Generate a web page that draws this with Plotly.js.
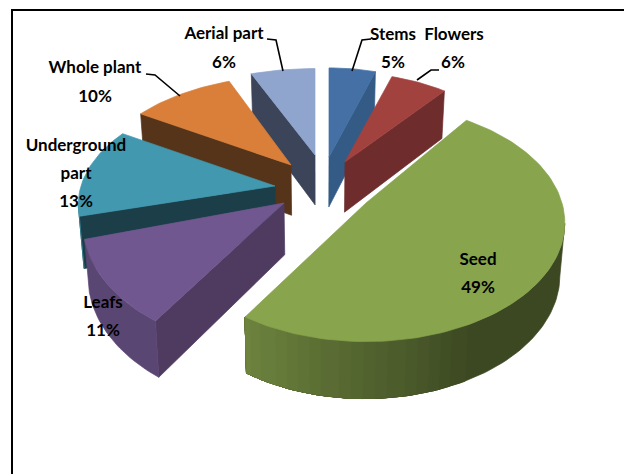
<!DOCTYPE html>
<html>
<head>
<meta charset="utf-8">
<script src="https://cdn.plot.ly/plotly-3.0.1.min.js"></script>
<style>html,body{margin:0;padding:0;background:#fff}#chart{width:624px;height:474px}</style>
</head>
<body>
<div id="chart"></div>
<script>
// Share of each plant part, clockwise from twelve o'clock
const parts = ["Stems", "Flowers", "Seed", "Leafs", "Underground part", "Whole plant", "Aerial part"];
const shares = [5, 6, 49, 11, 13, 10, 6];
const topColors = ["#4470a5", "#a2423f", "#88a44d", "#71578f", "#4198af", "#d97f3a", "#8fa5cd"];
const wallColors = ["#335b85", "#6e2c2c", "#5f7535", "#4f3a60", "#1b3e49", "#56341a", "#3b4459"];

// Exploded tip of each wedge, its stretch in the tilted plane and a small turn in degrees
const tipX = [329, 345, 366, 284, 275, 291, 315];
const tipY = [157, 162, 203, 203, 186, 165, 155];
const stretchX = [0.87, 0.88, 0.98, 0.99, 0.97, 0.97, 1];
const stretchY = [1, 1, 1.11, 1.18, 1.05, 1, 0.97];
const turn = [0, 0, -4, -2, -1, 0, 0];
const radiusX = 200, radiusY = 104, tilt = 0.167;

// Paint order, back to front
const paintOrder = [6, 0, 1, 5, 4, 3, 2];

const wallDepth = y => 44 + 0.038 * y;

function planePoint(i, angle) {
  const a = angle + turn[i] * Math.PI / 180;
  const X = Math.sin(a), Y = Math.cos(a), w = 1 + tilt * Y;
  return [tipX[i] + stretchX[i] * radiusX * X / w, tipY[i] - stretchY[i] * radiusY * Y / w];
}
const rgb = hex => [1, 3, 5].map(k => parseInt(hex.substr(k, 2), 16));
function scaled(hex, f) {
  const c = rgb(hex).map(v => Math.round(v * f));
  return `rgb(${c[0]},${c[1]},${c[2]})`;
}
// Rim brightness falls off from the lower left towards the lower right, in fine bands
function rimShade(deg) {
  const u = Math.max(0, Math.min(1, (deg - 155) / 61));
  return Math.round((0.43 + 0.37 * u) * 50) / 50;
}
const poly = (pts, color) => ({
  type: "scatter", mode: "lines", fill: "toself", hoverinfo: "skip", showlegend: false,
  x: pts.map(p => p[0]).concat(pts[0][0]), y: pts.map(p => p[1]).concat(pts[0][1]),
  fillcolor: color, line: {color: color, width: 0.7}
});

const traces = [];
const total = shares.reduce((a, b) => a + b, 0);
const startAt = [];
shares.reduce((sum, v, i) => (startAt[i] = sum, sum + v), 0);

function drawWedge(i) {
  const t0 = startAt[i] / total * 2 * Math.PI;
  const t1 = (startAt[i] + shares[i]) / total * 2 * Math.PI;
  const steps = Math.max(8, Math.round(shares[i] * 2.4));
  const arc = [];
  for (let k = 0; k <= steps; k++) arc.push(t0 + (t1 - t0) * k / steps);
  const tip = [tipX[i], tipY[i]];
  const rim = arc.map(a => planePoint(i, a));
  const drop = p => [p[0] + 0.02 * (320 - p[0]), p[1] + wallDepth(p[1])];
  if (rim[0][0] - tip[0] < 0) traces.push(poly([tip, rim[0], drop(rim[0]), drop(tip)], wallColors[i]));
  if (tip[0] - rim[steps][0] < 0) traces.push(poly([rim[steps], tip, drop(tip), drop(rim[steps])], wallColors[i]));
  // Outer wall: each shade band runs to the far end of the wall and the next one paints over it,
  // so neighbouring bands leave no seam
  let lastShade = null;
  let lastFacing = -1;
  for (let k = steps - 1; k >= 0; k--) {
    if (rim[k + 1][0] - rim[k][0] < 0) { lastFacing = k; break; }
  }
  for (let k = 0; k <= lastFacing; k++) {
    if (rim[k + 1][0] - rim[k][0] >= 0) continue;
    const shade = rimShade((arc[k] + arc[k + 1]) / 2 * 180 / Math.PI);
    if (shade === lastShade) continue;
    lastShade = shade;
    const run = rim.slice(k, lastFacing + 2);
    traces.push(poly(run.concat(run.slice().reverse().map(drop)), scaled(topColors[i], shade)));
  }
  traces.push(poly([tip].concat(rim), topColors[i]));
}
paintOrder.forEach(drawWedge);

// Leader lines from the outer labels
const leaderX = [[267, 276, 283], [371, 362, 352], [439, 431, 417], [146, 155, 180]];
const leaderY = [[39, 40, 71], [39, 40, 71], [70, 70, 80], [74, 75, 96]];
leaderX.forEach((xs, i) => traces.push({
  type: "scatter", mode: "lines", x: xs, y: leaderY[i], hoverinfo: "skip", showlegend: false,
  line: {color: "#000", width: 1.6}
}));

// Each label line sits on its own baseline
const pct = i => shares[i] + "%";
const labelText = ["Stems", pct(0), "Flowers", pct(1), "Seed", pct(2), "Leafs", pct(3),
  "Underground", "part", pct(4), "Whole plant", pct(5), "Aerial part", pct(6)];
const labelX = [393, 393, 454, 453, 478, 478, 103, 103, 76, 76, 76, 95, 95, 224, 224];
const labelY = [36, 64, 36, 64, 261, 289, 304, 332, 147, 175, 203, 69, 98, 35, 64];
traces.push({
  type: "scatter", mode: "text", x: labelX, y: labelY, text: labelText, hoverinfo: "skip",
  showlegend: false, textposition: "middle center", cliponaxis: false,
  textfont: {family: "Lato, 'Open Sans', sans-serif", size: 17, color: "#000", weight: 700}
});

const layout = {
  width: 624, height: 474, margin: {l: 0, r: 0, t: 0, b: 0},
  paper_bgcolor: "#fff", plot_bgcolor: "#fff", showlegend: false,
  xaxis: {range: [0, 624], visible: false, fixedrange: true},
  yaxis: {range: [474, 0], visible: false, fixedrange: true},
  shapes: [
    {type: "line", x0: 12, x1: 12, y0: 9, y1: 474, line: {color: "#000", width: 2}},
    {type: "line", x0: 11, x1: 624, y0: 10, y1: 10, line: {color: "#000", width: 2}}
  ]
};
Plotly.newPlot("chart", traces, layout, {displayModeBar: false, staticPlot: true});
</script>
</body>
</html>
